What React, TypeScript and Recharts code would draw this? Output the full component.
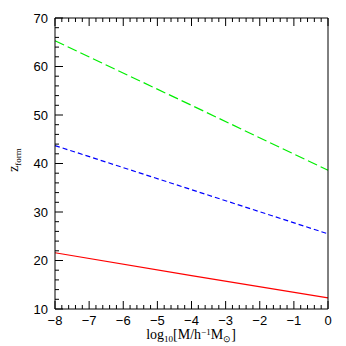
import React from 'react';
import {LineChart, Line, XAxis, YAxis} from 'recharts';

const masses = [-8, -4, 0];
const zGreen = [65.3, 52.0, 38.6];
const zBlue = [43.7, 34.6, 25.5];
const zRed = [21.6, 16.9, 12.3];

const xMajor = [-8, -7, -6, -5, -4, -3, -2, -1, 0];
const yMajor = [10, 20, 30, 40, 50, 60, 70];

// minor ticks every 0.2 on x and every 2 on y
const xTicks = Array.from({length: 41}, (_, i) => Math.round((-8 + i * 0.2) * 10) / 10);
const yTicks = Array.from({length: 31}, (_, i) => 10 + i * 2);

const data = masses.map((m, i) => ({m, green: zGreen[i], blue: zBlue[i], red: zRed[i]}));

const tickFont = {fontFamily: '"Liberation Sans", Arial, sans-serif', fontSize: 13};
const labelFont = {fontFamily: '"Liberation Serif", "Times New Roman", serif', fontSize: 14};

const fmt = (v: number) => (v < 0 ? '\u2212' + Math.abs(v) : String(v));

const XTick = ({x, y, payload, top}: any) => {
    const major = xMajor.includes(payload.value);
    const len = major ? 8 : 4;
    return (
        <g>
            <line x1={x} x2={x} y1={y} y2={top ? y + len : y - len} stroke="#000" strokeWidth={1}/>
            {major && !top && (
                <text x={x} y={y + 16} textAnchor="middle" style={tickFont} fill="#000">{fmt(payload.value)}</text>
            )}
        </g>
    );
};

const YTick = ({x, y, payload, right}: any) => {
    const major = yMajor.includes(payload.value);
    const len = major ? 8 : 4;
    return (
        <g>
            <line x1={x} x2={right ? x - len : x + len} y1={y} y2={y} stroke="#000" strokeWidth={1}/>
            {major && !right && (
                <text x={x - 7} y={y + 4.5} textAnchor="end" style={tickFont} fill="#000">{payload.value}</text>
            )}
        </g>
    );
};

const App = () => {
    return (
        <div style={{marginLeft: -8, marginTop: -8, width: 346, height: 346, background: '#fff'}}>
            <LineChart width={346} height={346} data={data} margin={{top: 17, right: 17, bottom: 0, left: 0}}>
                <XAxis xAxisId="b" dataKey="m" type="number" domain={[-8, 0]} ticks={xTicks} interval={0}
                       height={37} tickSize={0} tickMargin={0} stroke="#000"
                       tick={(p: any) => <XTick {...p}/>}
                       label={{content: () => (
                           <text x={191} y={339} textAnchor="middle" style={labelFont} fill="#000">
                               log<tspan fontSize={9} dy={3}>10</tspan><tspan dy={-3}>[M/h</tspan>
                               <tspan fontSize={9} dy={-4}>−1</tspan><tspan dy={4}>M</tspan>
                               <tspan fontSize={9} dy={3}>⊙</tspan><tspan dy={-3}>]</tspan>
                           </text>
                       )}}/>
                <XAxis xAxisId="t" orientation="top" dataKey="m" type="number" domain={[-8, 0]} ticks={xTicks}
                       interval={0} height={1} tickSize={0} tickMargin={0} stroke="#000"
                       tick={(p: any) => <XTick {...p} top/>}/>
                <YAxis yAxisId="l" type="number" domain={[10, 70]} ticks={yTicks} interval={0} width={55}
                       tickSize={0} tickMargin={0} stroke="#000"
                       tick={(p: any) => <YTick {...p}/>}
                       label={{content: () => (
                           <text transform="translate(18,160) rotate(-90)" textAnchor="middle" style={labelFont} fill="#000">
                               z<tspan fontSize={9} dy={3}>form</tspan>
                           </text>
                       )}}/>
                <YAxis yAxisId="r" orientation="right" type="number" domain={[10, 70]} ticks={yTicks} interval={0}
                       width={1} tickSize={0} tickMargin={0} stroke="#000"
                       tick={(p: any) => <YTick {...p} right/>}/>
                <Line xAxisId="b" yAxisId="l" dataKey="green" stroke="#00ee00" strokeWidth={1.2}
                      strokeDasharray="10 4" dot={false} isAnimationActive={false}/>
                <Line xAxisId="b" yAxisId="l" dataKey="blue" stroke="#0000ff" strokeWidth={1.2}
                      strokeDasharray="5 3" dot={false} isAnimationActive={false}/>
                <Line xAxisId="b" yAxisId="l" dataKey="red" stroke="#ff0000" strokeWidth={1.2}
                      dot={false} isAnimationActive={false}/>
            </LineChart>
        </div>
    );
};

export default App;
